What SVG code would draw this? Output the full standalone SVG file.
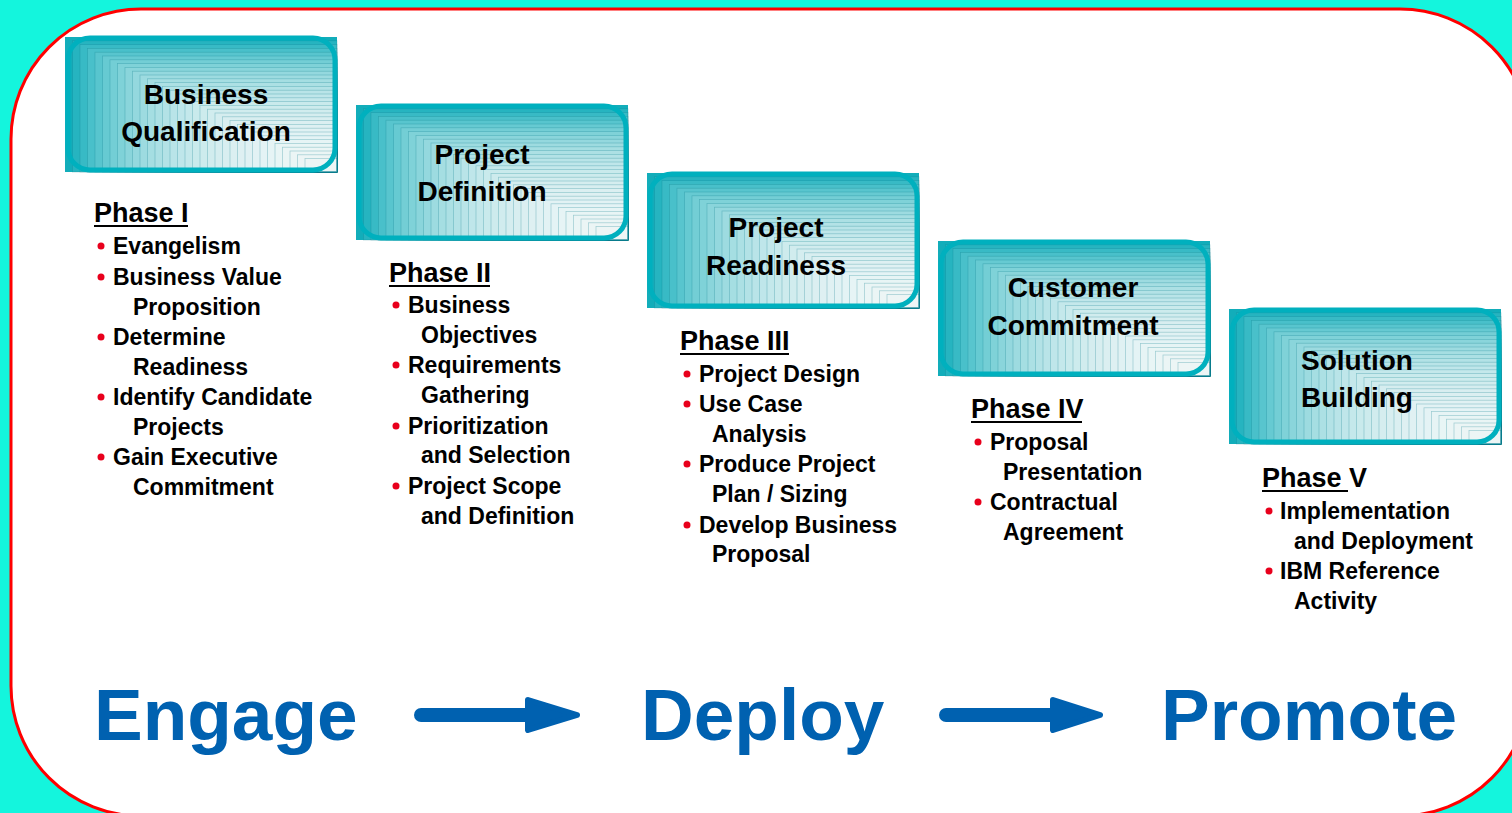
<svg xmlns="http://www.w3.org/2000/svg" xmlns:xlink="http://www.w3.org/1999/xlink" width="1512" height="813" viewBox="0 0 1512 813">
<style>
.bt{font-family:"Liberation Sans",Arial,sans-serif;font-weight:bold;font-size:28px;fill:#000;text-anchor:middle}
.ph{font-family:"Liberation Sans",Arial,sans-serif;font-weight:bold;font-size:27px;fill:#000}
.it{font-family:"Liberation Sans",Arial,sans-serif;font-weight:bold;font-size:23px;fill:#000}
.big{font-family:"Liberation Sans",Arial,sans-serif;font-weight:bold;font-size:73px;fill:#0061B0}
.dot{fill:#E8001C}
.ul{stroke:#000;stroke-width:2}
.frame{fill:none;stroke:#00B0BE;stroke-width:5}
.arr{stroke:#0061B0;stroke-width:14;stroke-linecap:round;fill:none}
.ah{fill:#0061B0;stroke:#0061B0;stroke-width:6;stroke-linejoin:round}
.nr{fill:#fff;fill-opacity:0.085;stroke:#0b7f8c;stroke-opacity:0.35;stroke-width:0.7}
</style>
<defs>
<g id="boxfill">
<rect x="0" y="0" width="272" height="135" fill="#12ADBA"/>
<rect class="nr" x="7.5" y="3.8" width="264.5" height="131.2"/>
<rect class="nr" x="15" y="7.6" width="257" height="127.4"/>
<rect class="nr" x="22.5" y="11.4" width="249.5" height="123.6"/>
<rect class="nr" x="30" y="15.2" width="242" height="119.8"/>
<rect class="nr" x="37.5" y="19" width="234.5" height="116"/>
<rect class="nr" x="45" y="22.8" width="227" height="112.2"/>
<rect class="nr" x="52.5" y="26.6" width="219.5" height="108.4"/>
<rect class="nr" x="60" y="30.4" width="212" height="104.6"/>
<rect class="nr" x="67.5" y="34.2" width="204.5" height="100.8"/>
<rect class="nr" x="75" y="38" width="197" height="97"/>
<rect class="nr" x="82.5" y="41.8" width="189.5" height="93.2"/>
<rect class="nr" x="90" y="45.6" width="182" height="89.4"/>
<rect class="nr" x="97.5" y="49.4" width="174.5" height="85.6"/>
<rect class="nr" x="105" y="53.2" width="167" height="81.8"/>
<rect class="nr" x="112.5" y="57" width="159.5" height="78"/>
<rect class="nr" x="120" y="60.8" width="152" height="74.2"/>
<rect class="nr" x="127.5" y="64.6" width="144.5" height="70.4"/>
<rect class="nr" x="135" y="68.4" width="137" height="66.6"/>
<rect class="nr" x="142.5" y="72.2" width="129.5" height="62.8"/>
<rect class="nr" x="150" y="76" width="122" height="59"/>
<rect class="nr" x="157.5" y="79.8" width="114.5" height="55.2"/>
<rect class="nr" x="165" y="83.6" width="107" height="51.4"/>
<rect class="nr" x="172.5" y="87.4" width="99.5" height="47.6"/>
<rect class="nr" x="180" y="91.2" width="92" height="43.8"/>
<rect class="nr" x="187.5" y="95" width="84.5" height="40"/>
<rect class="nr" x="195" y="98.8" width="77" height="36.2"/>
<rect class="nr" x="202.5" y="102.6" width="69.5" height="32.4"/>
<rect class="nr" x="210" y="106.4" width="62" height="28.6"/>
<rect class="nr" x="217.5" y="110.2" width="54.5" height="24.8"/>
<rect class="nr" x="225" y="114" width="47" height="21"/>
<rect class="nr" x="232.5" y="117.8" width="39.5" height="17.2"/>
<rect class="nr" x="240" y="121.6" width="32" height="13.4"/>
<rect class="frame" x="3" y="1" width="267" height="132" rx="22"/>
</g>
</defs>
<rect x="0" y="0" width="1512" height="813" fill="#14F5DD"/>
<rect x="11" y="9" width="1519" height="807" rx="130" fill="#fff" stroke="#FF0000" stroke-width="3"/>

<g id="node-business-qualification">
<use xlink:href="#boxfill" x="65" y="37"/>
<text class="bt" x="206" y="104">Business</text>
<text class="bt" x="206" y="141">Qualification</text>
</g>
<g id="node-project-definition">
<use xlink:href="#boxfill" x="356" y="105"/>
<text class="bt" x="482" y="164">Project</text>
<text class="bt" x="482" y="201">Definition</text>
</g>
<g id="node-project-readiness">
<use xlink:href="#boxfill" x="647" y="173"/>
<text class="bt" x="776" y="237">Project</text>
<text class="bt" x="776" y="275">Readiness</text>
</g>
<g id="node-customer-commitment">
<use xlink:href="#boxfill" x="938" y="241"/>
<text class="bt" x="1073" y="297">Customer</text>
<text class="bt" x="1073" y="335">Commitment</text>
</g>
<g id="node-solution-building">
<use xlink:href="#boxfill" x="1229" y="309"/>
<text class="bt" x="1357" y="370">Solution</text>
<text class="bt" x="1357" y="407">Building</text>
</g>

<g id="phase-1">
<text class="ph" x="94" y="222">Phase I</text>
<line class="ul" x1="94" y1="226" x2="188" y2="226"/>
<circle class="dot" cx="101" cy="246" r="3.5"/><text class="it" x="113" y="254">Evangelism</text>
<circle class="dot" cx="101" cy="277" r="3.5"/><text class="it" x="113" y="285">Business Value</text>
<text class="it" x="133" y="315">Proposition</text>
<circle class="dot" cx="101" cy="337" r="3.5"/><text class="it" x="113" y="345">Determine</text>
<text class="it" x="133" y="375">Readiness</text>
<circle class="dot" cx="101" cy="397" r="3.5"/><text class="it" x="113" y="405">Identify Candidate</text>
<text class="it" x="133" y="435">Projects</text>
<circle class="dot" cx="101" cy="457" r="3.5"/><text class="it" x="113" y="465">Gain Executive</text>
<text class="it" x="133" y="495">Commitment</text>
</g>
<g id="phase-2">
<text class="ph" x="389" y="282">Phase II</text>
<line class="ul" x1="389" y1="286" x2="490" y2="286"/>
<circle class="dot" cx="396" cy="305" r="3.5"/><text class="it" x="408" y="313">Business</text>
<text class="it" x="421" y="343">Objectives</text>
<circle class="dot" cx="396" cy="365" r="3.5"/><text class="it" x="408" y="373">Requirements</text>
<text class="it" x="421" y="403">Gathering</text>
<circle class="dot" cx="396" cy="426" r="3.5"/><text class="it" x="408" y="434">Prioritization</text>
<text class="it" x="421" y="463">and Selection</text>
<circle class="dot" cx="396" cy="486" r="3.5"/><text class="it" x="408" y="494">Project Scope</text>
<text class="it" x="421" y="524">and Definition</text>
</g>
<g id="phase-3">
<text class="ph" x="680" y="350">Phase III</text>
<line class="ul" x1="680" y1="354" x2="789" y2="354"/>
<circle class="dot" cx="687" cy="374" r="3.5"/><text class="it" x="699" y="382">Project Design</text>
<circle class="dot" cx="687" cy="404" r="3.5"/><text class="it" x="699" y="412">Use Case</text>
<text class="it" x="712" y="442">Analysis</text>
<circle class="dot" cx="687" cy="464" r="3.5"/><text class="it" x="699" y="472">Produce Project</text>
<text class="it" x="712" y="502">Plan / Sizing</text>
<circle class="dot" cx="687" cy="525" r="3.5"/><text class="it" x="699" y="533">Develop Business</text>
<text class="it" x="712" y="562">Proposal</text>
</g>
<g id="phase-4">
<text class="ph" x="971" y="418">Phase IV</text>
<line class="ul" x1="971" y1="422" x2="1082" y2="422"/>
<circle class="dot" cx="978" cy="442" r="3.5"/><text class="it" x="990" y="450">Proposal</text>
<text class="it" x="1003" y="480">Presentation</text>
<circle class="dot" cx="978" cy="502" r="3.5"/><text class="it" x="990" y="510">Contractual</text>
<text class="it" x="1003" y="540">Agreement</text>
</g>
<g id="phase-5">
<text class="ph" x="1262" y="487">Phase V</text>
<line class="ul" x1="1262" y1="491" x2="1348" y2="491"/>
<circle class="dot" cx="1269" cy="511" r="3.5"/><text class="it" x="1280" y="519">Implementation</text>
<text class="it" x="1294" y="549">and Deployment</text>
<circle class="dot" cx="1269" cy="571" r="3.5"/><text class="it" x="1280" y="579">IBM Reference</text>
<text class="it" x="1294" y="609">Activity</text>
</g>

<g id="stage-labels">
<text class="big" x="94" y="740">Engage</text>
<text class="big" x="641" y="740">Deploy</text>
<text class="big" x="1161" y="740">Promote</text>
</g>

<g id="connectors">
<line class="arr" x1="421" y1="715" x2="540" y2="715"/>
<polygon class="ah" points="528,700 577,715 528,730"/>
<line class="arr" x1="946" y1="715" x2="1064" y2="715"/>
<polygon class="ah" points="1053,700 1100,715 1053,730"/>
</g>
</svg>
